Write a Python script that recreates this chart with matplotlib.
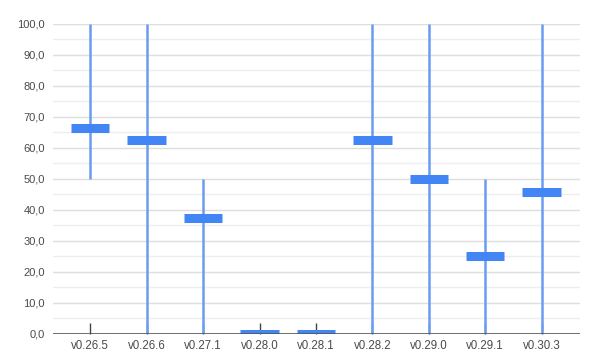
import matplotlib
matplotlib.use("Agg")
import numpy as np
from matplotlib import pyplot as plt
from matplotlib.ticker import FuncFormatter, MultipleLocator

plt.rcParams['font.family'] = ['Liberation Sans', 'DejaVu Sans']

versions = ['v0.26.5', 'v0.26.6', 'v0.27.1', 'v0.28.0', 'v0.28.1',
            'v0.28.2', 'v0.29.0', 'v0.29.1', 'v0.30.3']
low = [50, 0, 0, 0, 0, 0, 0, 0, 0]
high = [100, 100, 50, 0, 0, 100, 100, 50, 100]
mid = [66.5, 62.5, 37.5, 0, 0, 62.5, 50, 25, 45.8]

fig = plt.figure(figsize=(5.97, 3.63), dpi=100)
ax = fig.add_axes([0.0888, 0.0799, 0.8827, 0.854])

x = np.arange(len(versions))

# grid: darker every 10, lighter every 5
for v in np.arange(5, 101, 5):
    ax.axhline(v, color='#dedede' if v % 10 == 0 else '#eeeeee', lw=1, zorder=0)

ax.vlines(x, low, high, color='#6b9cf2', lw=1.8, zorder=2)
ax.hlines(mid, x - 0.34, x + 0.34, color='#4285f4', lw=6.5, zorder=3)

ax.axhline(0, color='#555555', lw=1.2, zorder=4)

ax.set_xlim(-0.66, 8.68)
ax.set_ylim(0, 100)
ax.yaxis.set_major_locator(MultipleLocator(10))
ax.yaxis.set_major_formatter(FuncFormatter(lambda v, p: f'{v:.1f}'.replace('.', ',')))
ax.set_xticks(x)
ax.set_xticklabels(versions)
ax.tick_params(axis='x', direction='in', length=8, width=1, color='#444444',
               labelsize=8.3, labelcolor='#4a4a4a', pad=4)
ax.tick_params(axis='y', length=0, labelsize=8, labelcolor='#4a4a4a', pad=6)
for s in ax.spines.values():
    s.set_visible(False)

fig.savefig('out.png', dpi=100)
